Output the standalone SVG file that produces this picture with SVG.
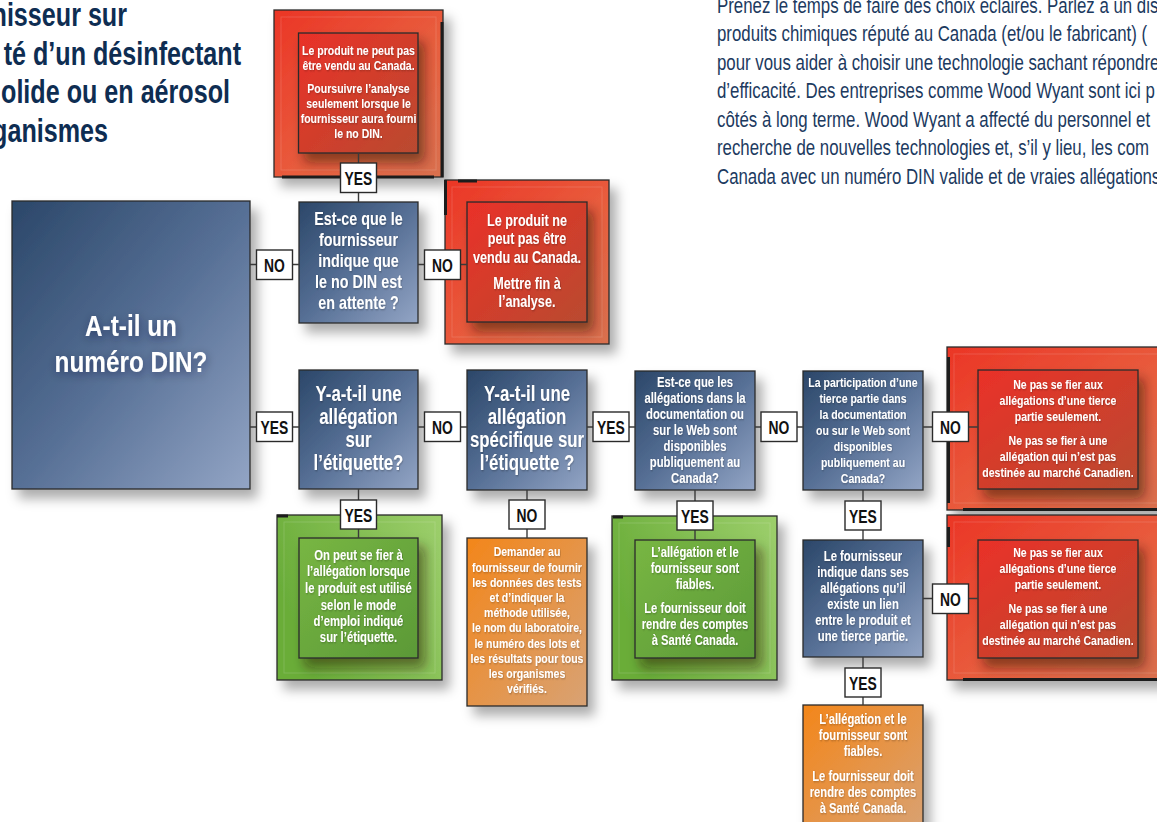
<svg xmlns="http://www.w3.org/2000/svg" width="1157" height="822" viewBox="0 0 1157 822">
<defs>
<style>
.bt{font-family:"Liberation Sans",Arial,"DejaVu Sans",sans-serif;font-weight:bold;fill:#fff;text-anchor:middle}
.box{stroke:#2a2a2a;stroke-width:1.3}
.blue{fill:url(#gBlue)}
.rout{fill:url(#gRedOuter)}
.rin{fill:url(#gRedInner)}
.gout{fill:url(#gGreenOuter)}
.gin{fill:url(#gGreenInner)}
.org{fill:url(#gOrange)}
.thick{stroke:#1c1c1c;stroke-width:3}
.hl{fill:none;stroke:#fff;stroke-opacity:.14;stroke-width:1}
.lbl rect{fill:#fff;stroke:#2a2a2a;stroke-width:1.4}
.lbl text{font-family:"Liberation Sans",Arial,sans-serif;font-weight:bold;font-size:19px;fill:#111;text-anchor:middle}
.con line{stroke:#3a3a3a;stroke-width:1.4}
.title{font-family:"Liberation Sans",Arial,sans-serif;font-weight:bold;font-size:33.5px;fill:#0e2d52;text-anchor:end}
.para{font-family:"Liberation Sans",Arial,sans-serif;font-size:22px;fill:#1c3a60}
</style>
<linearGradient id="gBlue" x1="0" y1="0" x2="1" y2="1"><stop offset="0" stop-color="#2b4769"/><stop offset="0.5" stop-color="#566f95"/><stop offset="1" stop-color="#93a5c5"/></linearGradient>
<linearGradient id="gRedOuter" x1="0" y1="0" x2="1" y2="1"><stop offset="0" stop-color="#eb3526"/><stop offset="0.6" stop-color="#e8603f"/><stop offset="1" stop-color="#d9704f"/></linearGradient>
<linearGradient id="gRedInner" x1="0" y1="0" x2="1" y2="1"><stop offset="0" stop-color="#ea3128"/><stop offset="1" stop-color="#b94a30"/></linearGradient>
<linearGradient id="gGreenOuter" x1="0" y1="0.4" x2="1" y2="0"><stop offset="0" stop-color="#6aad39"/><stop offset="1" stop-color="#9dcf6c"/></linearGradient>
<linearGradient id="gGreenInner" x1="0" y1="0" x2="1" y2="1"><stop offset="0" stop-color="#78b643"/><stop offset="1" stop-color="#5b9937"/></linearGradient>
<linearGradient id="gOrange" x1="0" y1="0" x2="1" y2="1"><stop offset="0" stop-color="#f3861a"/><stop offset="1" stop-color="#d8a274"/></linearGradient>
<filter id="sh" x="-20%" y="-20%" width="150%" height="150%"><feDropShadow dx="7" dy="9" stdDeviation="6" flood-color="#000" flood-opacity="0.32"/></filter>
<filter id="shIn" x="-20%" y="-20%" width="150%" height="150%"><feDropShadow dx="6" dy="9" stdDeviation="6" flood-color="#2a0800" flood-opacity="0.5"/></filter>
<filter id="ts" x="-10%" y="-10%" width="130%" height="130%"><feDropShadow dx="0.8" dy="0.8" stdDeviation="1" flood-color="#000" flood-opacity="0.3"/></filter>
<filter id="tsA" x="-30%" y="-30%" width="160%" height="160%"><feDropShadow dx="1" dy="3" stdDeviation="5" flood-color="#0a1a30" flood-opacity="0.45"/></filter>
</defs>

<rect width="1157" height="822" fill="#fff"/>

<g id="title">
<text class="title" transform="translate(127,26) scale(.75,1)">nisseur sur</text>
<text class="title" transform="translate(241,65) scale(.75,1)">té d’un désinfectant</text>
<text class="title" transform="translate(230,103) scale(.75,1)">olide ou en aérosol</text>
<text class="title" transform="translate(108,142) scale(.75,1)">ganismes</text>
</g>

<g id="intro">
<text class="para" transform="translate(717,0) scale(.765,1)">
<tspan x="0" y="13">Prenez le temps de faire des choix éclairés. Parlez à un dis</tspan>
<tspan x="0" y="41.5">produits chimiques réputé au Canada (et/ou le fabricant) (</tspan>
<tspan x="0" y="70">pour vous aider à choisir une technologie sachant répondre</tspan>
<tspan x="0" y="98.5">d’efficacité. Des entreprises comme Wood Wyant sont ici p</tspan>
<tspan x="0" y="127">côtés à long terme. Wood Wyant a affecté du personnel et</tspan>
<tspan x="0" y="155.5">recherche de nouvelles technologies et, s’il y lieu, les com</tspan>
<tspan x="0" y="184">Canada avec un numéro DIN valide et de vraies allégations</tspan>
</text>
</g>

<g id="n-din">
<rect class="box blue" x="12" y="201" width="238" height="288" filter="url(#sh)"/>
<text class="bt" font-size="29" transform="translate(131,0) scale(.84,1)" filter="url(#tsA)"><tspan x="0" y="336">A-t-il un</tspan><tspan x="0" y="372">numéro DIN?</tspan></text>
</g>

<g id="n-vendu-attente">
<rect class="box rout" x="274" y="10" width="169" height="167" filter="url(#sh)"/>
<rect class="hl" x="281" y="17" width="155" height="153"/>
<line class="thick" x1="442" y1="22" x2="442" y2="177"/>
<line class="thick" x1="282" y1="177" x2="434" y2="177"/>
<rect class="box rin" x="298.5" y="33" width="119.5" height="120" filter="url(#shIn)"/>
<text class="bt" font-size="13.5" transform="translate(358.5,0) scale(.78,1)" filter="url(#ts)"><tspan x="0" y="55">Le produit ne peut pas</tspan><tspan x="0" y="70.5">être vendu au Canada.</tspan><tspan x="0" y="93">Poursuivre l’analyse</tspan><tspan x="0" y="108">seulement lorsque le</tspan><tspan x="0" y="123">fournisseur aura fourni</tspan><tspan x="0" y="138">le no DIN.</tspan></text>
</g>

<g id="n-attente">
<rect class="box blue" x="299" y="202" width="119" height="121" filter="url(#sh)"/>
<text class="bt" font-size="18.4" transform="translate(358.5,0) scale(.78,1)" filter="url(#ts)"><tspan x="0" y="225">Est-ce que le</tspan><tspan x="0" y="246">fournisseur</tspan><tspan x="0" y="267.5">indique que</tspan><tspan x="0" y="288.5">le no DIN est</tspan><tspan x="0" y="309.5">en attente ?</tspan></text>
</g>

<g id="n-vendu-fin">
<rect class="box rout" x="445" y="180" width="164" height="164" filter="url(#sh)"/>
<rect class="hl" x="452" y="187" width="150" height="150"/>
<line class="thick" x1="445.5" y1="180" x2="445.5" y2="215"/>
<line class="thick" x1="458" y1="181" x2="477" y2="181"/>
<rect class="box rin" x="467" y="202" width="120" height="120" filter="url(#shIn)"/>
<text class="bt" font-size="16.2" transform="translate(527,0) scale(.78,1)" filter="url(#ts)"><tspan x="0" y="226">Le produit ne</tspan><tspan x="0" y="244.5">peut pas être</tspan><tspan x="0" y="263">vendu au Canada.</tspan><tspan x="0" y="289">Mettre fin à</tspan><tspan x="0" y="307">l’analyse.</tspan></text>
</g>

<g id="n-allegation">
<rect class="box blue" x="299" y="370" width="119" height="119" filter="url(#sh)"/>
<text class="bt" font-size="21.6" transform="translate(358.5,0) scale(.78,1)" filter="url(#ts)"><tspan x="0" y="401">Y-a-t-il une</tspan><tspan x="0" y="424">allégation</tspan><tspan x="0" y="447">sur</tspan><tspan x="0" y="470">l’étiquette?</tspan></text>
</g>

<g id="n-specifique">
<rect class="box blue" x="467" y="370" width="120" height="120" filter="url(#sh)"/>
<text class="bt" font-size="21.6" transform="translate(527,0) scale(.78,1)" filter="url(#ts)"><tspan x="0" y="401">Y-a-t-il une</tspan><tspan x="0" y="424">allégation</tspan><tspan x="0" y="447">spécifique sur</tspan><tspan x="0" y="470">l’étiquette ?</tspan></text>
</g>

<g id="n-documentation">
<rect class="box blue" x="635" y="371" width="120" height="119" filter="url(#sh)"/>
<text class="bt" font-size="14.5" transform="translate(695,0) scale(.78,1)" filter="url(#ts)"><tspan x="0" y="387">Est-ce que les</tspan><tspan x="0" y="403">allégations dans la</tspan><tspan x="0" y="419">documentation ou</tspan><tspan x="0" y="435.5">sur le Web sont</tspan><tspan x="0" y="451.5">disponibles</tspan><tspan x="0" y="467.5">publiquement au</tspan><tspan x="0" y="483.5">Canada?</tspan></text>
</g>

<g id="n-tierce">
<rect class="box blue" x="803" y="371" width="120" height="119" filter="url(#sh)"/>
<text class="bt" font-size="13.5" transform="translate(863,0) scale(.78,1)" filter="url(#ts)"><tspan x="0" y="387">La participation d’une</tspan><tspan x="0" y="403">tierce partie dans</tspan><tspan x="0" y="419">la documentation</tspan><tspan x="0" y="435.5">ou sur le Web sont</tspan><tspan x="0" y="451.5">disponibles</tspan><tspan x="0" y="467.5">publiquement au</tspan><tspan x="0" y="483.5">Canada?</tspan></text>
</g>

<g id="n-pas-fier-1">
<rect class="box rout" x="947" y="347" width="220" height="163" filter="url(#sh)"/>
<rect class="hl" x="954" y="354" width="210" height="149"/>
<line class="thick" x1="948.5" y1="357" x2="948.5" y2="503"/>
<line class="thick" x1="963" y1="509.5" x2="1157" y2="509.5"/>
<rect class="box rin" x="978" y="370" width="160" height="119" filter="url(#shIn)"/>
<text class="bt" font-size="13.5" transform="translate(1058,0) scale(.78,1)" filter="url(#ts)"><tspan x="0" y="389">Ne pas se fier aux</tspan><tspan x="0" y="405">allégations d’une tierce</tspan><tspan x="0" y="421">partie seulement.</tspan><tspan x="0" y="445">Ne pas se fier à une</tspan><tspan x="0" y="461">allégation qui n’est pas</tspan><tspan x="0" y="477">destinée au marché Canadien.</tspan></text>
</g>

<g id="n-fier-etiquette">
<rect class="box gout" x="277" y="515" width="165" height="165" filter="url(#sh)"/>
<rect class="hl" x="284" y="522" width="151" height="151"/>
<line class="thick" x1="277" y1="516" x2="288" y2="516"/>
<rect class="box gin" x="299" y="538" width="119" height="120" filter="url(#shIn)"/>
<text class="bt" font-size="14.5" transform="translate(358.5,0) scale(.78,1)" filter="url(#ts)"><tspan x="0" y="560">On peut se fier à</tspan><tspan x="0" y="576.5">l’allégation lorsque</tspan><tspan x="0" y="593">le produit est utilisé</tspan><tspan x="0" y="610">selon le mode</tspan><tspan x="0" y="626">d’emploi indiqué</tspan><tspan x="0" y="642.5">sur l’étiquette.</tspan></text>
</g>

<g id="n-demander">
<rect class="box org" x="467" y="538" width="120" height="168" filter="url(#sh)"/>
<text class="bt" font-size="13.5" transform="translate(527,0) scale(.78,1)" filter="url(#ts)"><tspan x="0" y="556.5">Demander au</tspan><tspan x="0" y="571.7">fournisseur de fournir</tspan><tspan x="0" y="586.8">les données des tests</tspan><tspan x="0" y="602">et d’indiquer la</tspan><tspan x="0" y="617">méthode utilisée,</tspan><tspan x="0" y="632.5">le nom du laboratoire,</tspan><tspan x="0" y="647.7">le numéro des lots et</tspan><tspan x="0" y="663">les résultats pour tous</tspan><tspan x="0" y="678">les organismes</tspan><tspan x="0" y="693">vérifiés.</tspan></text>
</g>

<g id="n-fiables-1">
<rect class="box gout" x="612" y="516" width="165" height="164" filter="url(#sh)"/>
<rect class="hl" x="619" y="523" width="151" height="150"/>
<line class="thick" x1="613" y1="517" x2="623" y2="517"/>
<rect class="box gin" x="635" y="540" width="120" height="118" filter="url(#shIn)"/>
<text class="bt" font-size="14.4" transform="translate(695,0) scale(.78,1)" filter="url(#ts)"><tspan x="0" y="557">L’allégation et le</tspan><tspan x="0" y="573">fournisseur sont</tspan><tspan x="0" y="589">fiables.</tspan><tspan x="0" y="613.5">Le fournisseur doit</tspan><tspan x="0" y="629.5">rendre des comptes</tspan><tspan x="0" y="645.5">à Santé Canada.</tspan></text>
</g>

<g id="n-lien">
<rect class="box blue" x="803" y="540" width="120" height="117" filter="url(#sh)"/>
<text class="bt" font-size="14.5" transform="translate(863,0) scale(.78,1)" filter="url(#ts)"><tspan x="0" y="561">Le fournisseur</tspan><tspan x="0" y="577">indique dans ses</tspan><tspan x="0" y="593">allégations qu’il</tspan><tspan x="0" y="609">existe un lien</tspan><tspan x="0" y="625">entre le produit et</tspan><tspan x="0" y="641">une tierce partie.</tspan></text>
</g>

<g id="n-pas-fier-2">
<rect class="box rout" x="947" y="515" width="220" height="165" filter="url(#sh)"/>
<rect class="hl" x="954" y="522" width="210" height="151"/>
<line class="thick" x1="948.5" y1="527" x2="948.5" y2="547"/>
<line class="thick" x1="963" y1="679.5" x2="1157" y2="679.5"/>
<rect class="box rin" x="978" y="540" width="160" height="118" filter="url(#shIn)"/>
<text class="bt" font-size="13.5" transform="translate(1058,0) scale(.78,1)" filter="url(#ts)"><tspan x="0" y="557.5">Ne pas se fier aux</tspan><tspan x="0" y="573.5">allégations d’une tierce</tspan><tspan x="0" y="589.5">partie seulement.</tspan><tspan x="0" y="613">Ne pas se fier à une</tspan><tspan x="0" y="629">allégation qui n’est pas</tspan><tspan x="0" y="645">destinée au marché Canadien.</tspan></text>
</g>

<g id="n-fiables-2">
<rect class="box org" x="803" y="705" width="120" height="130" filter="url(#sh)"/>
<text class="bt" font-size="14.4" transform="translate(863,0) scale(.78,1)" filter="url(#ts)"><tspan x="0" y="724.5">L’allégation et le</tspan><tspan x="0" y="740.5">fournisseur sont</tspan><tspan x="0" y="756.5">fiables.</tspan><tspan x="0" y="781">Le fournisseur doit</tspan><tspan x="0" y="797">rendre des comptes</tspan><tspan x="0" y="813">à Santé Canada.</tspan></text>
</g>

<g id="connectors" class="con">
<line x1="250" y1="264.5" x2="299" y2="264.5"/>
<line x1="418" y1="264.5" x2="467" y2="264.5"/>
<line x1="358.5" y1="153" x2="358.5" y2="202"/>
<line x1="250" y1="427" x2="299" y2="427"/>
<line x1="418" y1="427" x2="467" y2="427"/>
<line x1="587" y1="427" x2="635" y2="427"/>
<line x1="755" y1="427" x2="803" y2="427"/>
<line x1="923" y1="427" x2="978" y2="427"/>
<line x1="358.5" y1="489" x2="358.5" y2="538"/>
<line x1="527" y1="490" x2="527" y2="538"/>
<line x1="695" y1="490" x2="695" y2="540"/>
<line x1="863" y1="490" x2="863" y2="540"/>
<line x1="923" y1="598.5" x2="978" y2="598.5"/>
<line x1="863" y1="657" x2="863" y2="705"/>
</g>

<g id="edge-labels">
<g class="lbl"><rect x="340.5" y="163" width="36" height="29.5"/><text transform="translate(358.5,185) scale(.73,1)">YES</text></g>
<g class="lbl"><rect x="256.5" y="250" width="36" height="29.5"/><text transform="translate(274.5,272) scale(.73,1)">NO</text></g>
<g class="lbl"><rect x="424.5" y="250" width="36" height="29.5"/><text transform="translate(442.5,272) scale(.73,1)">NO</text></g>
<g class="lbl"><rect x="256.5" y="412" width="36" height="29.5"/><text transform="translate(274.5,434) scale(.73,1)">YES</text></g>
<g class="lbl"><rect x="424.5" y="412" width="36" height="29.5"/><text transform="translate(442.5,434) scale(.73,1)">NO</text></g>
<g class="lbl"><rect x="593" y="412" width="36" height="29.5"/><text transform="translate(611,434) scale(.73,1)">YES</text></g>
<g class="lbl"><rect x="761" y="412" width="36" height="29.5"/><text transform="translate(779,434) scale(.73,1)">NO</text></g>
<g class="lbl"><rect x="932.5" y="412" width="36" height="29.5"/><text transform="translate(950.5,434) scale(.73,1)">NO</text></g>
<g class="lbl"><rect x="340.5" y="500" width="36" height="29"/><text transform="translate(358.5,522) scale(.73,1)">YES</text></g>
<g class="lbl"><rect x="509" y="500" width="36" height="29"/><text transform="translate(527,522) scale(.73,1)">NO</text></g>
<g class="lbl"><rect x="677" y="501" width="36" height="29"/><text transform="translate(695,523) scale(.73,1)">YES</text></g>
<g class="lbl"><rect x="845" y="501" width="36" height="29"/><text transform="translate(863,523) scale(.73,1)">YES</text></g>
<g class="lbl"><rect x="932.5" y="584" width="36" height="29.5"/><text transform="translate(950.5,606) scale(.73,1)">NO</text></g>
<g class="lbl"><rect x="845" y="668" width="36" height="29"/><text transform="translate(863,690) scale(.73,1)">YES</text></g>
</g>
</svg>
